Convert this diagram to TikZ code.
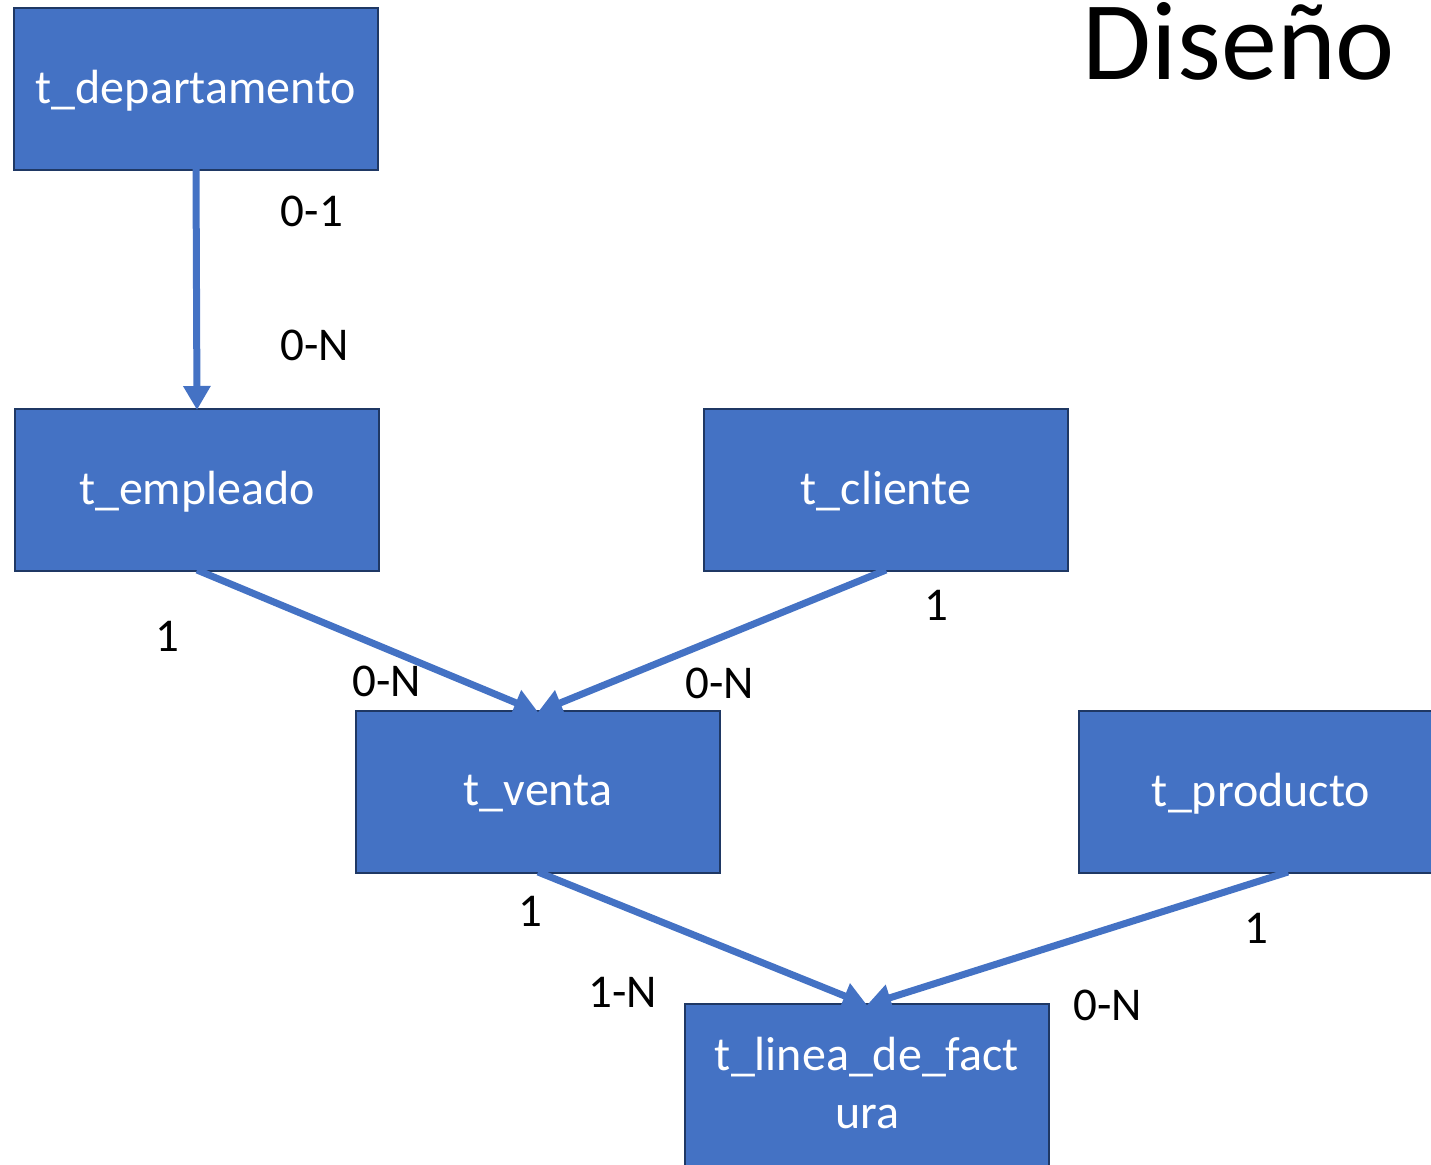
\documentclass[tikz,border=0pt]{standalone}
\usepackage{fontspec}
\setmainfont{Carlito}
\usetikzlibrary{arrows.meta,calc}
\definecolor{boxfill}{HTML}{4472C4}
\definecolor{boxedge}{HTML}{1F3864}
\definecolor{linkcol}{HTML}{4472C4}
\begin{document}
\begin{tikzpicture}[x=1pt,y=-1pt,
  entity/.style={draw=boxedge,line width=2pt,fill=boxfill,minimum width=364pt,minimum height=162pt,
    inner sep=0pt,text depth=4pt,text=white,font=\fontsize{48}{58}\selectfont,align=center},
  link/.style={draw=linkcol,line width=7pt,-{Triangle[width=26pt,length=24pt]}},
  card/.style={font=\fontsize{47}{54}\selectfont,inner sep=0pt,text=black}]
\useasboundingbox (0,0) rectangle (1431,1164);
\clip (0,0) rectangle (1431,1164);
\node[entity] (dep) at (196,89) {t\_departamento};
\node[entity] (emp) at (197,490) {t\_empleado};
\node[entity] (cli) at (886,490) {t\_cliente};
\node[entity] (ven) at (538,792) {t\_venta};
\node[entity] (pro) at (1261,792) {t\_producto};
\node[entity] (lin) at (867,1085) {t\_linea\_de\_fact\\ura};
\node[inner sep=0pt,font=\fontsize{112}{130}\selectfont] (title) at (1239,41) {Diseño};
\draw[link] ($(dep.south)+(0,-2)$) -- ($(emp.north)+(0,2)$);
\draw[link] ($(emp.south)+(0,-2)$) -- ($(ven.north)+(0,2)$);
\draw[link] ($(cli.south)+(0,-2)$) -- ($(ven.north)+(0,2)$);
\draw[link] ($(ven.south)+(0,-2)$) -- ($(lin.north)+(0,2)$);
\draw[link] ($(pro.south)+(27,-2)$) -- ($(lin.north)+(0,2)$);
\node[card] (c1) at (312,211) {0-1};
\node[card] (c2) at (315,345) {0-N};
\node[card] (c3) at (167,636) {1};
\node[card] (c4) at (387,681) {0-N};
\node[card] (c5) at (936,605) {1};
\node[card] (c6) at (720,683) {0-N};
\node[card] (c7) at (530,911) {1};
\node[card] (c8) at (623,992) {1-N};
\node[card] (c9) at (1256,928) {1};
\node[card] (c10) at (1108,1005) {0-N};
\end{tikzpicture}
\end{document}
